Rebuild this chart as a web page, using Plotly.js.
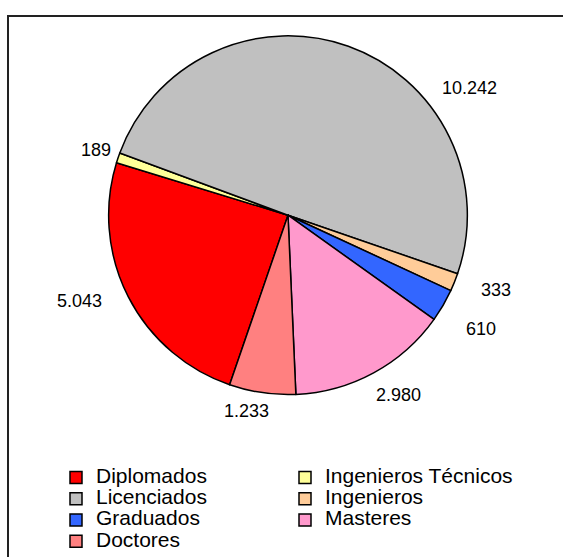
<!DOCTYPE html>
<html>
<head>
<meta charset="utf-8">
<script src="https://cdn.plot.ly/plotly-3.0.1.min.js"></script>
<style>html,body{margin:0;padding:0;background:#fff;}#chart{width:563px;height:557px;}</style>
</head>
<body>
<div id="chart"></div>
<script>
// ---- data ----
const categories = ["Diplomados", "Ingenieros Técnicos", "Licenciados", "Ingenieros", "Graduados", "Masteres", "Doctores"];
const values = [5043, 189, 10242, 333, 610, 2980, 1233];
const sliceColors = ["#FF0000", "#FFFF99", "#C0C0C0", "#FFCC99", "#3366FF", "#FF99CC", "#FF8080"];

// ---- layout helpers (label placement, mimicking manually placed data labels) ----
const W = 563, H = 557;
const labelPos = [[79, 302], [96, 151], [469, 88], [496, 291], [481, 330], [398, 396], [246, 412]];
const fmt = v => String(v).replace(/\B(?=(\d{3})+(?!\d))/g, ".");
const font = "Arial, 'Liberation Sans', sans-serif";

const cx = 288, cy = 216, R = 180;

const trace = {
  type: "pie",
  labels: categories.map(c => '<span style="font-size:21px">' + c + '</span>'),
  values: values,
  sort: false,
  direction: "clockwise",
  rotation: 199,
  textinfo: "none",
  hoverinfo: "skip",
  marker: { colors: sliceColors, line: { color: "#000", width: 1.5 } },
  domain: { x: [(cx - R) / W, (cx + R) / W], y: [(H - cy - R) / H, (H - cy + R) / H] }
};

const annotations = values.map((v, i) => ({
  xref: "paper", yref: "paper",
  x: labelPos[i][0] / W, y: 1 - labelPos[i][1] / H,
  xanchor: "center", yanchor: "middle",
  text: fmt(v), showarrow: false,
  font: { family: font, size: 18, color: "#000" }
}));

const layout = {
  width: W, height: H,
  margin: { l: 0, r: 0, t: 0, b: 0 },
  paper_bgcolor: "#fff",
  font: { family: font, color: "#000" },
  showlegend: true,
  legend: {
    orientation: "h",
    x: 56 / W, xanchor: "left",
    y: 1 - 464 / H, yanchor: "top",
    entrywidth: 184, entrywidthmode: "pixels",
    font: { family: font, size: 14, color: "#000" },
    bgcolor: "rgba(0,0,0,0)",
    traceorder: "normal"
  },
  annotations: annotations,
  shapes: [{
    type: "rect", xref: "paper", yref: "paper",
    x0: 8 / W, x1: 1.05, y0: -0.05, y1: 1 - 16 / H,
    line: { color: "#222", width: 2 }, fillcolor: "rgba(0,0,0,0)", layer: "below"
  }]
};

Plotly.newPlot("chart", [trace], layout, { displayModeBar: false, staticPlot: true });
</script>
</body>
</html>
